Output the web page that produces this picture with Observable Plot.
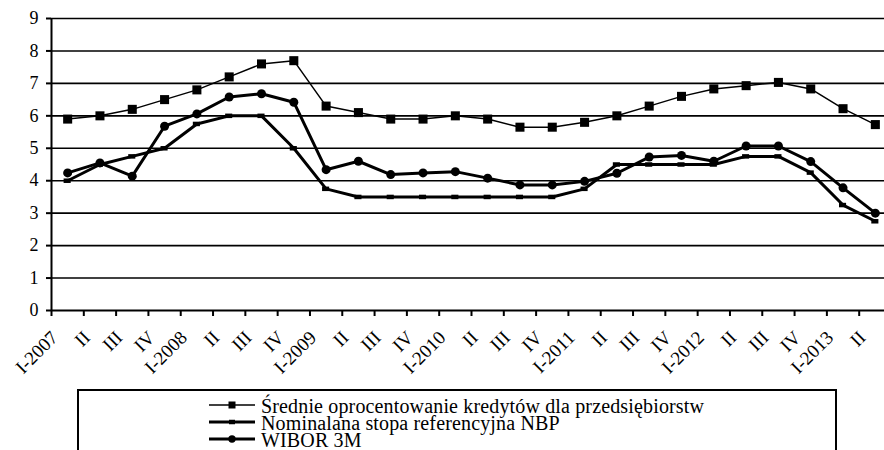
<!DOCTYPE html>
<html><head><meta charset="utf-8">
<script src="https://cdn.jsdelivr.net/npm/d3@7"></script>
<script src="https://cdn.jsdelivr.net/npm/@observablehq/plot@0.6"></script>
<style>
body{margin:0;background:#fff;}
#chart svg{display:block;}
#legend svg{display:block;}
</style></head><body>
<div id="chart"></div>
<div id="legend"></div>
<script>
const labels = ["I-2007","II","III","IV","I-2008","II","III","IV","I-2009","II","III","IV","I-2010","II","III","IV","I-2011","II","III","IV","I-2012","II","III","IV","I-2013","II"];
const srednie = [5.9, 6.0, 6.2, 6.5, 6.8, 7.2, 7.6, 7.7, 6.3, 6.1, 5.9, 5.9, 6.0, 5.9, 5.65, 5.65, 5.8, 6.0, 6.3, 6.6, 6.83, 6.93, 7.03, 6.83, 6.22, 5.73];
const nbp = [4.0, 4.5, 4.75, 5.0, 5.75, 6.0, 6.0, 5.0, 3.75, 3.5, 3.5, 3.5, 3.5, 3.5, 3.5, 3.5, 3.75, 4.5, 4.5, 4.5, 4.5, 4.75, 4.75, 4.25, 3.25, 2.75];
const wibor = [4.24, 4.55, 4.14, 5.68, 6.06, 6.58, 6.68, 6.42, 4.34, 4.6, 4.19, 4.24, 4.28, 4.08, 3.87, 3.87, 3.98, 4.23, 4.73, 4.78, 4.6, 5.07, 5.07, 4.59, 3.78, 3.0];
const yTicks = [0, 1, 2, 3, 4, 5, 6, 7, 8, 9];
const seriesNames = ["Średnie oprocentowanie kredytów dla przedsiębiorstw", "Nominalana stopa referencyjna NBP", "WIBOR 3M"];

const FONT = '"Liberation Serif","Times New Roman",serif';
const rows = labels.map((label, i) => ({i, label, srednie: srednie[i], nbp: nbp[i], wibor: wibor[i]}));
const n = labels.length;
const boundaries = d3.range(n + 1).map(k => k - 0.5);

const plot = Plot.plot({
  width: 884, height: 389,
  marginLeft: 51, marginRight: 0, marginTop: 18, marginBottom: 79,
  style: {fontFamily: FONT, fontSize: "18px", color: "#000", background: "#fff", overflow: "visible"},
  x: {type: "linear", domain: [-0.5, n - 0.5], range: [51, 891], label: null},
  y: {domain: [0, 9], label: null},
  marks: [
    Plot.ruleY(yTicks.slice(1), {x1: -0.5, x2: n - 0.5, stroke: "#000", strokeWidth: 1.6}),
    Plot.ruleY([0], {x1: -0.5, x2: n - 0.5, stroke: "#000", strokeWidth: 2}),
    Plot.ruleX([-0.5], {y1: 0, y2: 9, stroke: "#000", strokeWidth: 2}),
    Plot.axisY(yTicks, {anchor: "left", label: null, tickSize: 5, tickPadding: 8, strokeWidth: 2, stroke: "#000", fill: "#000"}),
    Plot.axisX(boundaries, {anchor: "bottom", label: null, tickSize: 6, tickFormat: () => "", strokeWidth: 2, stroke: "#000"}),
    Plot.text(rows, {x: "i", y: () => 0, text: "label", rotate: -45, textAnchor: "end", dx: -13, dy: 24, fontSize: 19, fill: "#000"}),
    Plot.line(rows, {x: "i", y: "srednie", stroke: "#000", strokeWidth: 1.5}),
    Plot.dot(rows, {x: "i", y: "srednie", symbol: "square", r: 5.1, fill: "#000"}),
    Plot.line(rows, {x: "i", y: "nbp", stroke: "#000", strokeWidth: 3}),
    Plot.ruleY(rows, {x1: d => d.i - 0.11, x2: d => d.i + 0.11, y: "nbp", stroke: "#000", strokeWidth: 4.5}),
    Plot.line(rows, {x: "i", y: "wibor", stroke: "#000", strokeWidth: 3}),
    Plot.dot(rows, {x: "i", y: "wibor", r: 4.5, fill: "#000"})
  ]
});
document.getElementById("chart").appendChild(plot);

// Legend (below the plot SVG)
const lg = d3.select("#legend").append("svg").attr("width", 884).attr("height", 61);
lg.append("rect").attr("x", 78).attr("y", 1).attr("width", 758).attr("height", 90)
  .attr("fill", "#fff").attr("stroke", "#000").attr("stroke-width", 2);
const baselines = [24, 41, 58];
seriesNames.forEach((name, k) => {
  const b = baselines[k], ly = b - 8;
  lg.append("line").attr("x1", 209).attr("x2", 255).attr("y1", ly).attr("y2", ly)
    .attr("stroke", "#000").attr("stroke-width", k === 0 ? 1.5 : 3);
  if (k === 0) lg.append("rect").attr("x", 228.5).attr("y", ly - 3.5).attr("width", 7).attr("height", 7).attr("fill", "#000");
  if (k === 1) lg.append("line").attr("x1", 229).attr("x2", 235).attr("y1", ly).attr("y2", ly).attr("stroke", "#000").attr("stroke-width", 4.5);
  if (k === 2) lg.append("circle").attr("cx", 232).attr("cy", ly).attr("r", 3.7).attr("fill", "#000");
  lg.append("text").attr("x", 261).attr("y", b).attr("font-family", FONT).attr("font-size", 20)
    .attr("letter-spacing", 0.15).attr("fill", "#000").text(name);
});
</script>
</body></html>
